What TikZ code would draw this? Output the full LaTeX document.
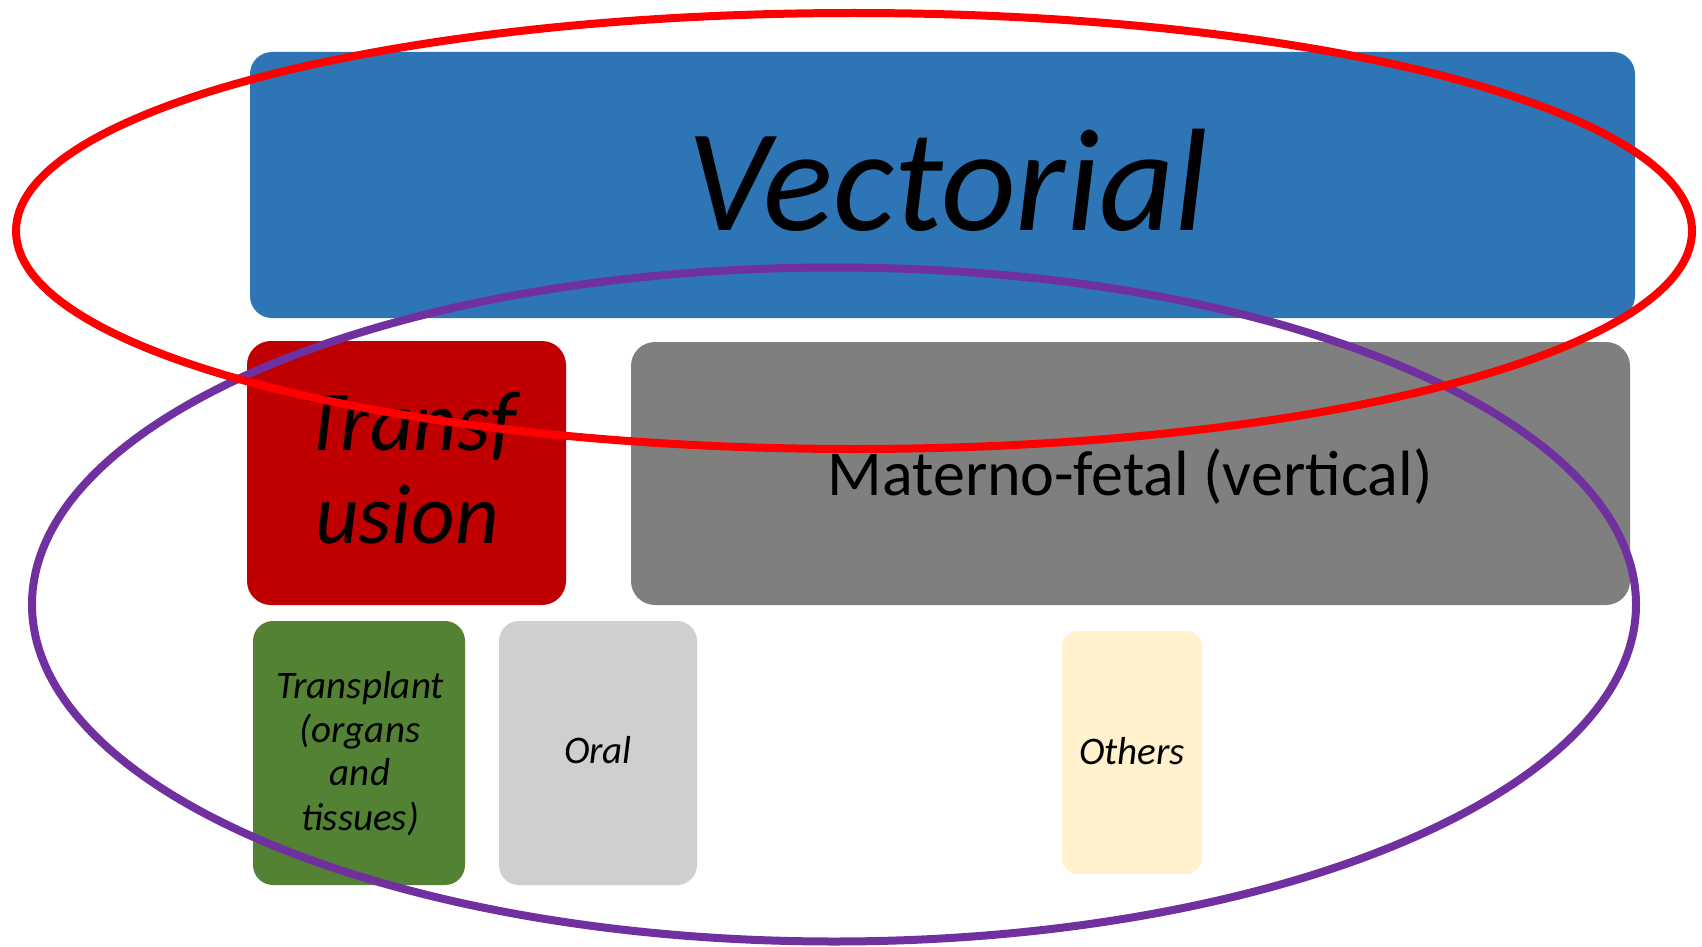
\documentclass[tikz,border=0pt]{standalone}
\usepackage{fontspec}
\setmainfont{Carlito}
\definecolor{vecblue}{HTML}{2E75B6}
\definecolor{transred}{HTML}{C00000}
\definecolor{matgray}{HTML}{7F7F7F}
\definecolor{plantgreen}{HTML}{548235}
\definecolor{oralgray}{HTML}{D0CECE}
\definecolor{othercream}{HTML}{FFF2CC}
\definecolor{ringred}{HTML}{FF0000}
\definecolor{ringpurple}{HTML}{7030A0}
\begin{document}
\begin{tikzpicture}[x=1pt,y=-1pt,
  tile/.style={rounded corners=#1, inner sep=0pt, draw=none},
  lab/.style={inner sep=0pt, anchor=base, text=black},
  ring/.style={line width=8pt}]
\useasboundingbox (0,0) rectangle (1702,947);
\fill[white] (0,0) rectangle (1702,947);

% category boxes
\node[tile=22pt, fill=vecblue, minimum width=1385pt, minimum height=266pt] (vectorial) at (942.5,185) {};
\node[tile=24pt, fill=transred, minimum width=319pt, minimum height=264pt] (transfusion) at (406.5,473) {};
\node[tile=24pt, fill=matgray, minimum width=999pt, minimum height=263pt] (materno) at (1130.5,473.5) {};
\node[tile=20pt, fill=plantgreen, minimum width=212pt, minimum height=264pt] (transplant) at (359,753) {};
\node[tile=20pt, fill=oralgray, minimum width=198pt, minimum height=264pt] (oral) at (598,753) {};
\node[tile=16pt, fill=othercream, minimum width=140pt, minimum height=243pt] (others) at (1132,752.5) {};

% labels
\node[lab, font=\fontsize{146}{150}\selectfont\itshape] (vectorial-label) at (948,230) {Vectorial};
\node[lab, font=\fontsize{85}{93}\selectfont\itshape] (transfusion-label1) at (410,450) {Transf};
\node[lab, font=\fontsize{85}{93}\selectfont\itshape] (transfusion-label2) at (407,543) {usion};
\node[lab, font=\fontsize{64}{70}\selectfont] (materno-label) at (1130,495) {Materno-fetal (vertical)};
\node[lab, font=\fontsize{39}{44}\selectfont\itshape] (transplant-label1) at (360,698) {Transplant};
\node[lab, font=\fontsize{39}{44}\selectfont\itshape] (transplant-label2) at (360,742) {(organs};
\node[lab, font=\fontsize{39}{44}\selectfont\itshape] (transplant-label3) at (360,785) {and};
\node[lab, font=\fontsize{39}{44}\selectfont\itshape] (transplant-label4) at (360,830) {tissues)};
\node[lab, font=\fontsize{39}{44}\selectfont\itshape] (oral-label) at (598,763) {Oral};
\node[lab, font=\fontsize{39}{44}\selectfont\itshape] (others-label) at (1132,764) {Others};

% grouping rings
\draw[ring, ringpurple] (834,604.5) ellipse [x radius=802pt, y radius=337pt];
\draw[ring, ringred] (854,231) ellipse [x radius=838pt, y radius=218pt];
\end{tikzpicture}
\end{document}
